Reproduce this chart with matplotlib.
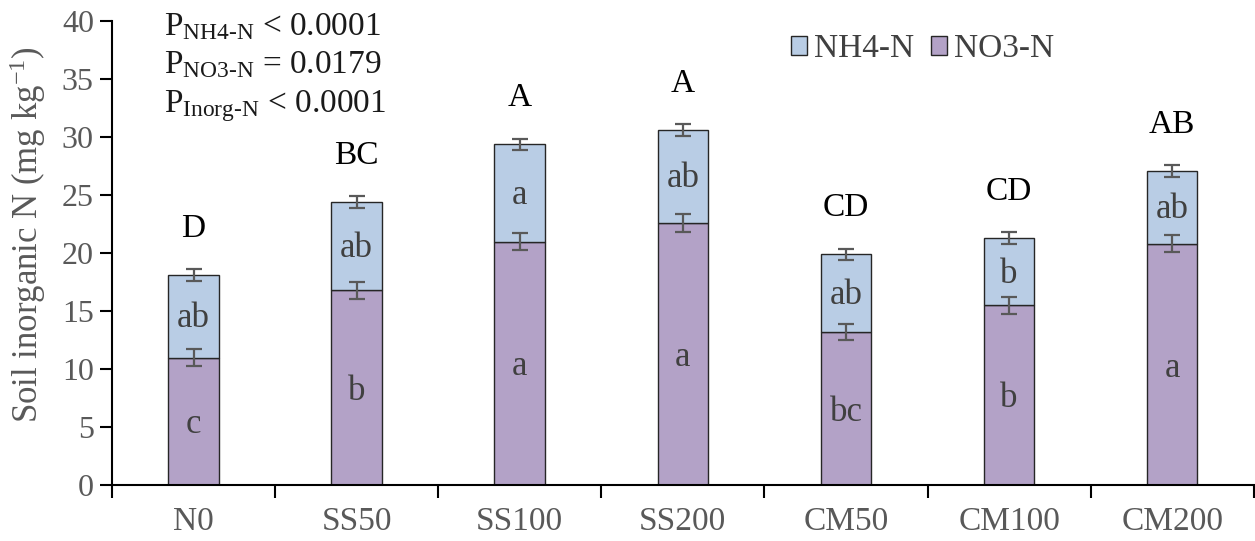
import numpy as np
import matplotlib
matplotlib.use("Agg")
import matplotlib.pyplot as plt
from matplotlib.ticker import FixedLocator, NullFormatter

plt.rcParams['font.family'] = ['Liberation Serif', 'DejaVu Serif']
plt.rcParams['mathtext.fontset'] = 'custom'
plt.rcParams['mathtext.rm'] = 'Liberation Serif'
plt.rcParams['mathtext.it'] = 'Liberation Serif:italic'

# Tratamientos y valores medios (mg kg-1)
tratamientos = ['N0', 'SS50', 'SS100', 'SS200', 'CM50', 'CM100', 'CM200']
no3 = [11.0, 16.8, 21.0, 22.6, 13.2, 15.5, 20.8]
nh4 = [7.1, 7.6, 8.4, 8.0, 6.7, 5.8, 6.3]
err_no3 = [0.75, 0.72, 0.75, 0.76, 0.7, 0.75, 0.74]
err_total = [0.5, 0.5, 0.48, 0.5, 0.48, 0.5, 0.5]

# Letras de significancia
letras_total = ['D', 'BC', 'A', 'A', 'CD', 'CD', 'AB']
letras_nh4 = ['ab', 'ab', 'a', 'ab', 'ab', 'b', 'ab']
letras_no3 = ['c', 'b', 'a', 'a', 'bc', 'b', 'a']

color_nh4 = '#B9CDE5'
color_no3 = '#B3A2C7'
gris = '#595959'

fig = plt.figure(figsize=(12.55, 5.41), dpi=100)
ax = fig.add_axes([0.0892, 0.103, 0.9098, 0.858])

x = np.arange(len(tratamientos))
total = np.array(no3) + np.array(nh4)
ancho = 0.31

ax.bar(x, no3, ancho, color=color_no3, edgecolor='#262626', linewidth=1.0,
       label='NO3-N', zorder=2)
ax.bar(x, nh4, ancho, bottom=no3, color=color_nh4, edgecolor='#262626',
       linewidth=1.0, label='NH4-N', zorder=2)

ax.errorbar(x, no3, yerr=err_no3, fmt='none', ecolor=gris, elinewidth=1.6,
            capsize=5.5, capthick=1.6, zorder=3)
ax.errorbar(x, total, yerr=err_total, fmt='none', ecolor=gris, elinewidth=1.6,
            capsize=5.5, capthick=1.6, zorder=3)

for i in range(len(x)):
    ax.text(x[i], total[i] + 4.0, letras_total[i], ha='center', va='center',
            fontsize=24, color='black')
    ax.text(x[i], no3[i] + nh4[i] / 2 - 0.2, letras_nh4[i], ha='center',
            va='center', fontsize=25, color='#404040')
    ax.text(x[i], no3[i] / 2 - 0.3, letras_no3[i], ha='center', va='center',
            fontsize=25, color='#404040')

ax.set_xlim(-0.5, len(x) - 0.5)
ax.set_ylim(0, 40)
ax.set_yticks(np.arange(0, 41, 5))
ax.set_xticks(x)
ax.set_xticklabels(tratamientos)
ax.xaxis.set_minor_locator(FixedLocator(np.arange(-0.5, len(x), 1.0)))
ax.xaxis.set_minor_formatter(NullFormatter())
ax.tick_params(axis='x', which='major', length=0, pad=15, labelsize=24,
               labelcolor=gris)
ax.tick_params(axis='x', which='minor', length=9, width=1.5, direction='out',
               color='black')
ax.tick_params(axis='y', length=9, width=1.5, direction='out', labelsize=23,
               labelcolor=gris, pad=4)

for lado in ['top', 'right']:
    ax.spines[lado].set_visible(False)
for lado in ['left', 'bottom']:
    ax.spines[lado].set_linewidth(1.5)

ax.set_ylabel('Soil inorganic N (mg kg$^{-1}$)', fontsize=25, color=gris)
ax.yaxis.set_label_coords(-0.056, 0.54)

# Valores P del ANOVA
ax.text(0.046, 1.02, 'P$_{\\text{NH4-N}}$ < 0.0001\n'
        'P$_{\\text{NO3-N}}$ = 0.0179\n'
        'P$_{\\text{Inorg-N}}$ < 0.0001',
        transform=ax.transAxes, ha='left', va='top', fontsize=24,
        color='#1a1a1a', linespacing=1.3)

handles, labels = ax.get_legend_handles_labels()
leg = fig.legend(handles[::-1], labels[::-1], loc='center',
                 bbox_to_anchor=(0.735, 0.91), ncol=2, frameon=False,
                 fontsize=24, handlelength=0.5, handleheight=0.5,
                 handletextpad=0.2, columnspacing=0.5, labelcolor='#404040')

fig.savefig('out.png', dpi=100)
